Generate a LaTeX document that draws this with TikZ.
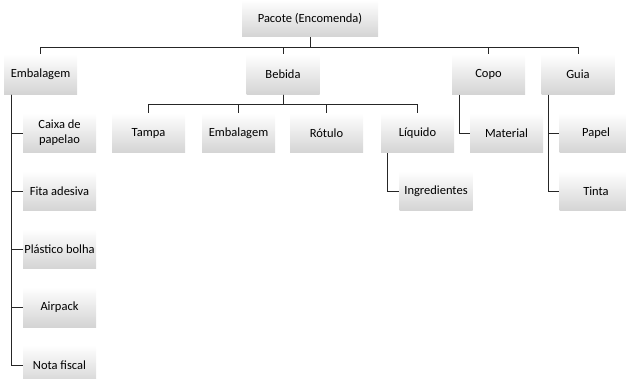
\documentclass[tikz,border=0pt]{standalone}
\usepackage{fontspec}
\setmainfont{Carlito}
\usetikzlibrary{positioning,calc}

\begin{document}
\begin{tikzpicture}[x=1pt,y=-1pt,
    item/.style={minimum width=73pt,minimum height=40pt,inner sep=1pt,align=center,
      top color=white,middle color=black!4,bottom color=black!17,text=black,
      font=\fontsize{12.5}{15}\selectfont},
    link/.style={draw=black!85,line width=0.9pt}]
  \useasboundingbox (0,0) rectangle (626,379);
  \begin{scope}
    \clip (0,0) rectangle (626,379);
    % root and first level
    \node[item,minimum width=136pt,minimum height=37pt] (root) at (310,18.5) {Pacote (Encomenda)};
    \node[item] (emb) at (40.5,74.5) {Embalagem};
    \node[item] (beb) at (283,74.5) {Bebida};
    \node[item] (copo) at (488.5,74.5) {Copo};
    \node[item] (guia) at (578,74.5) {Guia};
    % packaging list
    \node[item] (caixa) at (59.5,133) {Caixa de\\papelao};
    \node[item] (fita) at (59.5,191) {Fita adesiva};
    \node[item] (plast) at (59.5,249) {Plástico bolha};
    \node[item] (air) at (59.5,307) {Airpack};
    \node[item] (nota) at (59.5,365) {Nota fiscal};
    % drink parts
    \node[item] (tampa) at (148.5,133) {Tampa};
    \node[item] (embal) at (238.5,133) {Embalagem};
    \node[item] (rot) at (326.5,133) {Rótulo};
    \node[item] (liq) at (417.5,133) {Líquido};
    \node[item] (ingr) at (436,191) {Ingredientes};
    % cup and guide
    \node[item] (mat) at (506.5,133) {Material};
    \node[item] (papel) at (596,133) {Papel};
    \node[item] (tinta) at (596,191) {Tinta};

    % connectors
    \coordinate (bus) at ($(root.south)+(0,10)$);
    \foreach \c in {emb,beb,copo,guia}
      \draw[link] (root.south) -- (bus) -| (\c.north);
    \coordinate (bbus) at ($(beb.south)+(0,10)$);
    \foreach \c in {tampa,embal,rot,liq}
      \draw[link] (beb.south) -- (bbus) -| (\c.north);
    \foreach \c in {caixa,fita,plast,air,nota}
      \draw[link] ($(emb.south west)+(8,0)$) |- (\c.west);
    \draw[link] ($(liq.south west)+(7,0)$) |- (ingr.west);
    \draw[link] ($(copo.south west)+(8,0)$) |- (mat.west);
    \foreach \c in {papel,tinta}
      \draw[link] ($(guia.south west)+(7,0)$) |- (\c.west);
  \end{scope}
\end{tikzpicture}
\end{document}
